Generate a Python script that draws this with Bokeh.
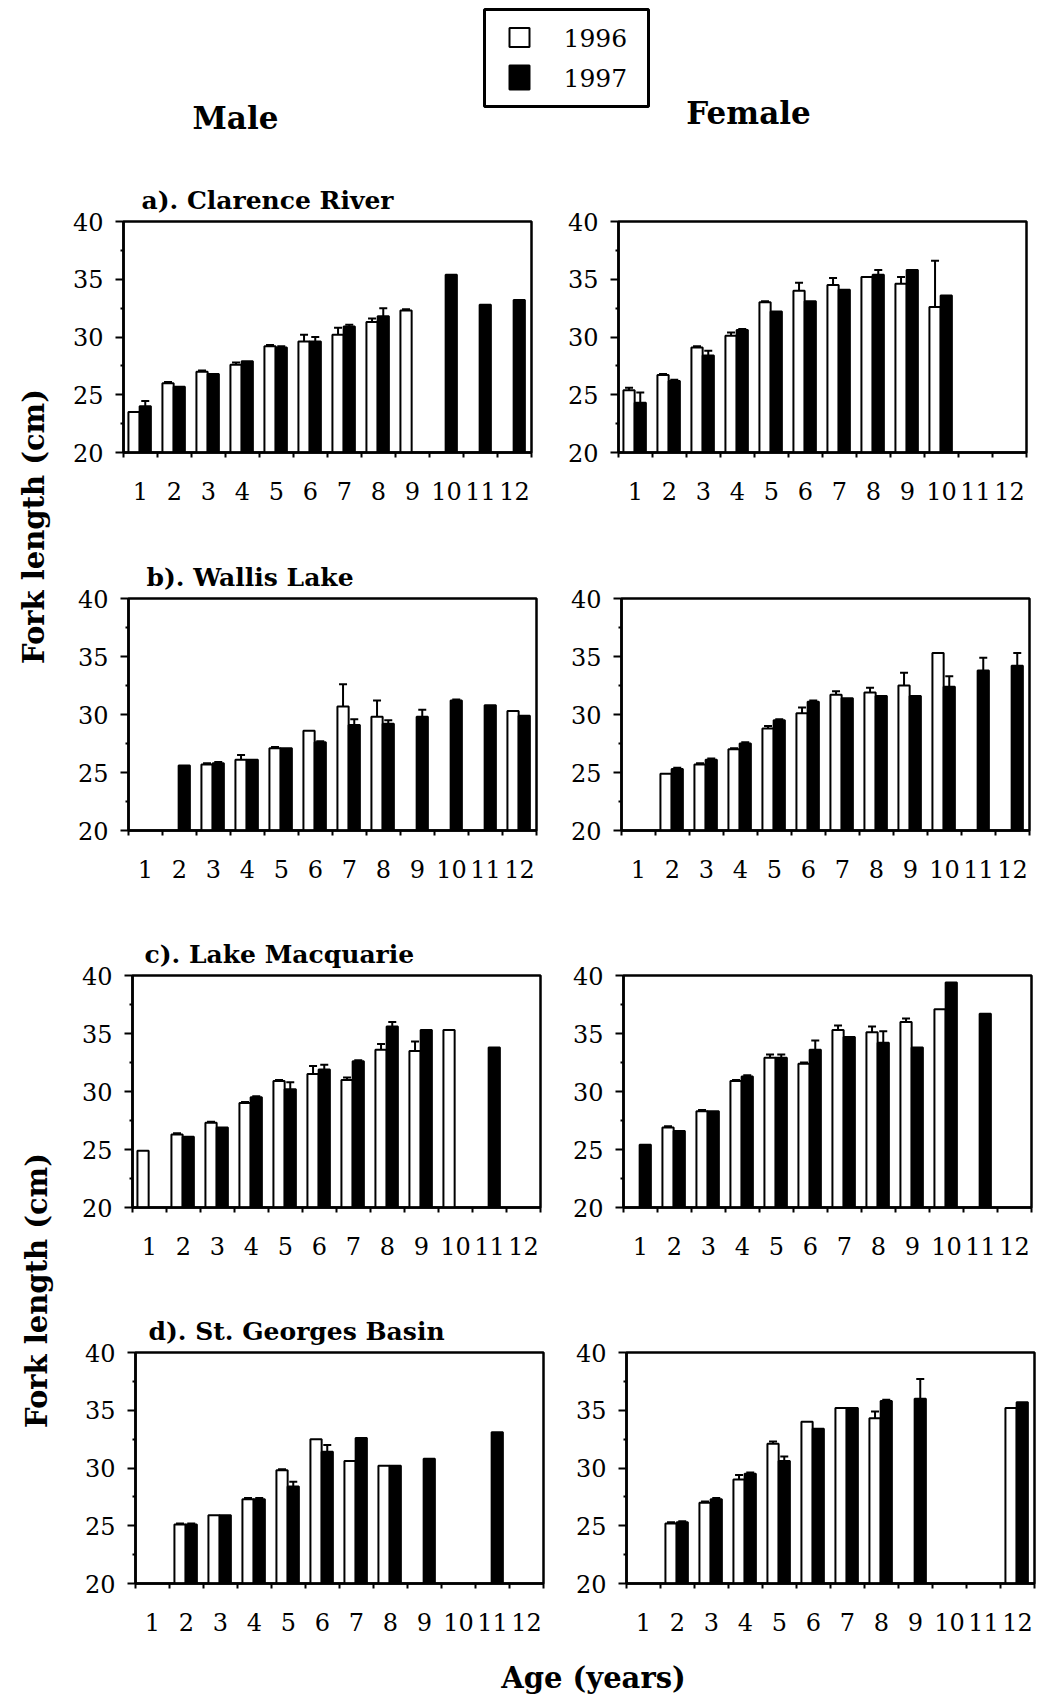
import math
from bokeh.plotting import figure
from bokeh.models import ColumnDataSource, Range1d, FixedTicker, Whisker, TeeHead
from bokeh.layouts import row, column
from bokeh.embed import file_html
from bokeh.resources import INLINE
from bokeh.core.properties import value

FONT = "DejaVu Serif"
nan = float("nan")

# ---------------- data ----------------
ages = [1, 2, 3, 4, 5, 6, 7, 8, 9, 10, 11, 12]
y_ticks = [20, 25, 30, 35, 40]
y_minor = [22.5, 27.5, 32.5, 37.5]
series_names = ["1996", "1997"]
sex_names = ["Male", "Female"]
site_titles = ["a).  Clarence River", "b).  Wallis Lake", "c).  Lake Macquarie", "d).  St. Georges Basin"]
y_title = "Fork length (cm)"
x_title = "Age (years)"

# a) Clarence River
clarence_male_1996 = [23.5, 26.0, 27.0, 27.6, 29.2, 29.6, 30.2, 31.3, 32.3, nan, nan, nan]
clarence_male_1996_se = [0, 0.1, 0.1, 0.2, 0.1, 0.6, 0.6, 0.3, 0.1, 0, 0, 0]
clarence_male_1997 = [24.0, 25.7, 26.8, 27.9, 29.1, 29.6, 30.9, 31.8, nan, 35.4, 32.8, 33.2]
clarence_male_1997_se = [0.45, 0, 0, 0, 0.1, 0.4, 0.15, 0.7, 0, 0, 0, 0]
clarence_female_1996 = [25.4, 26.7, 29.1, 30.1, 33.0, 34.0, 34.5, 35.2, 34.6, 32.6, nan, nan]
clarence_female_1996_se = [0.2, 0.1, 0.1, 0.3, 0.1, 0.7, 0.6, 0, 0.6, 4.0, 0, 0]
clarence_female_1997 = [24.3, 26.2, 28.4, 30.6, 32.2, 33.1, 34.1, 35.4, 35.8, 33.6, nan, nan]
clarence_female_1997_se = [0.9, 0.1, 0.4, 0.1, 0, 0, 0, 0.4, 0, 0, 0, 0]

# b) Wallis Lake
wallis_male_1996 = [nan, nan, 25.7, 26.1, 27.1, 28.6, 30.7, 29.8, nan, nan, nan, 30.3]
wallis_male_1996_se = [0, 0, 0.1, 0.4, 0.1, 0, 1.9, 1.4, 0, 0, 0, 0]
wallis_male_1997 = [nan, 25.6, 25.8, 26.1, 27.1, 27.6, 29.1, 29.2, 29.8, 31.2, 30.8, 29.9]
wallis_male_1997_se = [0, 0, 0.1, 0, 0, 0.1, 0.5, 0.3, 0.6, 0.1, 0, 0]
wallis_female_1996 = [nan, 24.9, 25.7, 27.0, 28.8, 30.1, 31.7, 31.9, 32.5, 35.3, nan, nan]
wallis_female_1996_se = [0, 0, 0.1, 0.1, 0.2, 0.5, 0.3, 0.4, 1.1, 0, 0, 0]
wallis_female_1997 = [nan, 25.3, 26.1, 27.5, 29.5, 31.1, 31.4, 31.6, 31.6, 32.4, 33.8, 34.2]
wallis_female_1997_se = [0, 0.1, 0.1, 0.1, 0.1, 0.1, 0, 0, 0, 0.9, 1.1, 1.1]

# c) Lake Macquarie
macquarie_male_1996 = [24.9, 26.3, 27.3, 29.0, 30.9, 31.5, 31.0, 33.6, 33.5, 35.3, nan, nan]
macquarie_male_1996_se = [0, 0.1, 0.1, 0.1, 0.1, 0.7, 0.2, 0.5, 0.8, 0, 0, 0]
macquarie_male_1997 = [nan, 26.1, 26.9, 29.5, 30.2, 31.9, 32.6, 35.6, 35.3, nan, 33.8, nan]
macquarie_male_1997_se = [0, 0, 0, 0.1, 0.6, 0.4, 0.1, 0.4, 0, 0, 0, 0]
macquarie_female_1996 = [nan, 26.9, 28.3, 30.9, 32.9, 32.4, 35.3, 35.1, 36.0, 37.1, nan, nan]
macquarie_female_1996_se = [0, 0.1, 0.1, 0.1, 0.3, 0.1, 0.4, 0.5, 0.3, 0, 0, 0]
macquarie_female_1997 = [25.4, 26.6, 28.3, 31.3, 32.9, 33.6, 34.7, 34.2, 33.8, 39.4, 36.7, nan]
macquarie_female_1997_se = [0, 0, 0, 0.1, 0.3, 0.8, 0, 1.0, 0, 0, 0, 0]

# d) St. Georges Basin
georges_male_1996 = [nan, 25.1, 25.9, 27.3, 29.8, 32.5, 30.6, 30.2, nan, nan, nan, nan]
georges_male_1996_se = [0, 0.1, 0, 0.1, 0.1, 0, 0, 0, 0, 0, 0, 0]
georges_male_1997 = [nan, 25.1, 25.9, 27.3, 28.4, 31.4, 32.6, 30.2, 30.8, nan, 33.1, nan]
georges_male_1997_se = [0, 0.1, 0, 0.1, 0.4, 0.6, 0, 0, 0, 0, 0, 0]
georges_female_1996 = [nan, 25.2, 27.0, 29.0, 32.1, 34.0, 35.2, 34.3, nan, nan, nan, 35.2]
georges_female_1996_se = [0, 0.1, 0.1, 0.4, 0.2, 0, 0, 0.6, 0, 0, 0, 0]
georges_female_1997 = [nan, 25.3, 27.3, 29.5, 30.6, 33.4, 35.2, 35.8, 36.0, nan, nan, 35.7]
georges_female_1997_se = [0, 0.1, 0.1, 0.1, 0.4, 0, 0, 0.1, 1.7, 0, 0, 0]

panels = [
    (clarence_male_1996, clarence_male_1996_se, clarence_male_1997, clarence_male_1997_se,
     clarence_female_1996, clarence_female_1996_se, clarence_female_1997, clarence_female_1997_se),
    (wallis_male_1996, wallis_male_1996_se, wallis_male_1997, wallis_male_1997_se,
     wallis_female_1996, wallis_female_1996_se, wallis_female_1997, wallis_female_1997_se),
    (macquarie_male_1996, macquarie_male_1996_se, macquarie_male_1997, macquarie_male_1997_se,
     macquarie_female_1996, macquarie_female_1996_se, macquarie_female_1997, macquarie_female_1997_se),
    (georges_male_1996, georges_male_1996_se, georges_male_1997, georges_male_1997_se,
     georges_female_1996, georges_female_1996_se, georges_female_1997, georges_female_1997_se),
]

# ---------------- layout constants ----------------
FIG_W = 490
ROW_H = 377
FRAME_W = 408
FRAME_H = 236
male_left = [65, 70, 74, 77]
female_left = [70, 73, 75, 78]
male_top = [71, 71, 71, 71]
female_top = [66, 67, 67, 66]
title_offset = [18, 18, 12, 13]


def bar_source(vals, ses, shift):
    xs, tops, ups = [], [], []
    for a, v, s in zip(ages, vals, ses):
        if v is None or (isinstance(v, float) and math.isnan(v)):
            continue
        xs.append(a + shift)
        tops.append(v)
        ups.append(v + s)
    return xs, tops, ups


def panel(v96, s96, v97, s97, left, top, title=None, toff=0):
    right = FIG_W - FRAME_W - left
    bottom = ROW_H - FRAME_H - top
    p = figure(width=FIG_W, height=ROW_H, x_range=Range1d(0.5, 12.5), y_range=Range1d(20, 40),
               output_backend="svg", toolbar_location=None,
               min_border_left=left, min_border_right=right,
               min_border_top=top, min_border_bottom=bottom,
               background_fill_color="white", border_fill_color="white")
    p.xgrid.visible = False
    p.ygrid.visible = False
    p.outline_line_color = "black"
    p.outline_line_width = 2.5
    p.outline_line_alpha = 1.0

    for (vals, ses, shift, fill) in [(v96, s96, -0.19, "white"), (v97, s97, 0.14, "black")]:
        xs, tops, ups = bar_source(vals, ses, shift)
        src = ColumnDataSource(dict(x=xs, top=tops, upper=ups))
        p.vbar(x="x", top="top", bottom=20, width=0.33, source=src,
               fill_color=fill, line_color="black", line_width=2)
        ex = [x for x, t, u in zip(xs, tops, ups) if u > t]
        et = [t for x, t, u in zip(xs, tops, ups) if u > t]
        eu = [u for x, t, u in zip(xs, tops, ups) if u > t]
        esrc = ColumnDataSource(dict(x=ex, top=et, upper=eu))
        p.add_layout(Whisker(base="x", lower="top", upper="upper", source=esrc,
                             line_color="black", line_width=2,
                             upper_head=TeeHead(size=8, line_width=2, line_color="black"),
                             lower_head=None))

    xa = p.xaxis[0]
    xa.ticker = FixedTicker(ticks=ages, minor_ticks=[a - 0.5 for a in ages] + [12.5])
    xa.major_tick_out = 0
    xa.major_tick_in = 0
    xa.minor_tick_out = 5
    xa.minor_tick_in = 0
    xa.minor_tick_line_width = 2
    xa.major_label_standoff = 24
    xa.axis_line_width = 2.5
    xa.major_label_text_font = FONT
    xa.major_label_text_font_size = "24px"
    xa.major_label_text_color = "black"

    ya = p.yaxis[0]
    ya.ticker = FixedTicker(ticks=y_ticks, minor_ticks=y_minor)
    ya.major_tick_out = 8
    ya.major_tick_in = 0
    ya.major_tick_line_width = 2
    ya.minor_tick_out = 3
    ya.minor_tick_in = 0
    ya.minor_tick_line_width = 2
    ya.major_label_standoff = 12
    ya.axis_line_width = 2.5
    ya.major_label_text_font = FONT
    ya.major_label_text_font_size = "24px"
    ya.major_label_text_color = "black"

    if title is not None:
        p.title.text = title
        p.title.text_font = FONT
        p.title.text_font_size = "25px"
        p.title.text_font_style = "bold"
        p.title.text_color = "black"
        p.title.align = "left"
        p.title.offset = toff
        p.title.standoff = 14
    return p


def blank(w, h):
    f = figure(width=w, height=h, x_range=Range1d(0, w), y_range=Range1d(h, 0),
               x_axis_type=None, y_axis_type=None, output_backend="svg",
               toolbar_location=None, min_border=0, outline_line_color=None,
               background_fill_color="white", border_fill_color="white")
    return f


# header with legend and sex headings
HDR_H = 150
hdr = blank(980, HDR_H)
hdr.rect(x=508, y=57.5, width=164, height=97, fill_color=None, line_color="black", line_width=3)
hdr.rect(x=[461, 461], y=[37, 77], width=[20, 20], height=[19, 24],
         fill_color=["white", "black"], line_color="black", line_width=2)
hdr.text(x=[505, 505], y=[37, 77], text=series_names, text_font=value(FONT),
         text_font_size="25px", text_baseline="middle", text_align="left", text_color="black")
hdr.text(x=[177, 690], y=[117, 112], text=sex_names, text_font=value(FONT),
         text_font_size="31px", text_font_style="bold", text_baseline="middle",
         text_align="center", text_color="black")

rows = []
for i, d in enumerate(panels):
    pm = panel(d[0], d[1], d[2], d[3], male_left[i], male_top[i], site_titles[i], title_offset[i])
    pf = panel(d[4], d[5], d[6], d[7], female_left[i], female_top[i])
    rows.append(row(pm, pf))

FTR_H = 42
ftr = blank(980, FTR_H)
ftr.text(x=[535], y=[19], text=[x_title], text_font=value(FONT), text_font_size="29px",
         text_font_style="bold", text_baseline="middle", text_align="center", text_color="black")

TOTAL_H = HDR_H + 4 * ROW_H + FTR_H
lab = blank(58, TOTAL_H)
lab.text(x=[33, 36], y=[526, 1290], text=[y_title, y_title], angle=math.pi / 2,
         text_font=value(FONT), text_font_size="29px", text_font_style="bold",
         text_baseline="middle", text_align="center", text_color="black")

layout = row(lab, column(hdr, *rows, ftr))

open("out.html", "w").write(file_html(layout, INLINE))
